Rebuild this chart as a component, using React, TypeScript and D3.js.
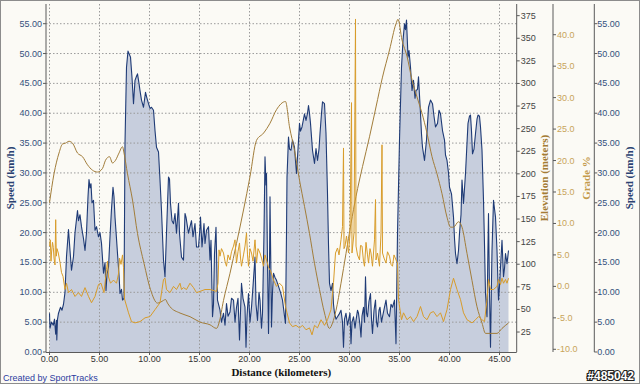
import React from 'react';
import * as d3 from 'd3';

type Pt = [number, number];

// distance (km) -> speed (km/h)
const speedPts: Pt[] = [
  [0.0, 6.5], [0.05, 4.0], [0.2, 5.0], [0.38, 4.5], [0.5, 5.5], [0.62, 3.0], [0.7, 5.3], [0.73, 2.0], [0.8, 5.5], [0.9, 6.5],
  [1.1, 7.5], [1.25, 7.0], [1.4, 8.0], [1.55, 10], [1.7, 16], [1.9, 20.5], [2.05, 17], [2.2, 13.7], [2.4, 16], [2.55, 20],
  [2.8, 23.7], [2.9, 22], [3.05, 23], [3.2, 21], [3.4, 19], [3.55, 17], [3.7, 20], [3.85, 26], [3.95, 28.9], [4.05, 27.5],
  [4.15, 28.2], [4.25, 25], [4.4, 25.4], [4.55, 20.4], [4.7, 21], [4.9, 19.3], [5.05, 20], [5.2, 18.2], [5.4, 13.2], [5.55, 15],
  [5.65, 10.3], [5.75, 13], [5.9, 14.2], [6.05, 19.3], [6.2, 24], [6.35, 27.6], [6.45, 26], [6.55, 22.6], [6.7, 19], [6.8, 16.5],
  [6.95, 13], [7.05, 9.8], [7.2, 10.5], [7.3, 8.7], [7.45, 9], [7.55, 35], [7.7, 47.7], [7.85, 50.4], [7.95, 50], [8.1, 49.4],
  [8.25, 46], [8.4, 41.6], [8.55, 45.5], [8.7, 46.2], [8.8, 46.6], [8.95, 45], [9.05, 43.8], [9.2, 42.2], [9.4, 41], [9.6, 43.5],
  [9.75, 42.5], [9.9, 41.6], [10.05, 40.8], [10.2, 41], [10.4, 40.5], [10.55, 37.1], [10.7, 34.3], [10.9, 33.5], [11.05, 28.8], [11.2, 23.7],
  [11.4, 15.4], [11.55, 12.6], [11.7, 20], [11.9, 29.3], [12.0, 29], [12.1, 24.9], [12.25, 22], [12.4, 21.5], [12.55, 23.2], [12.7, 19.9],
  [12.9, 24.9], [13.0, 19.9], [13.2, 15.9], [13.4, 15.4], [13.55, 23.2], [13.65, 22.6], [13.9, 19.9], [14.05, 21], [14.2, 22], [14.35, 19.3],
  [14.55, 21.5], [14.7, 17.6], [14.9, 17.6], [15.05, 20.9], [15.1, 22.6], [15.25, 17.6], [15.45, 21.5], [15.55, 18.2], [15.7, 20.4], [15.9, 21],
  [16.05, 15.4], [16.15, 18.7], [16.3, 5.9], [16.4, 8], [16.5, 16.5], [16.65, 20.9], [16.8, 8.7], [17.05, 7], [17.2, 5], [17.4, 6.5],
  [17.55, 4.5], [17.7, 8.1], [17.85, 6], [18.05, 6.7], [18.2, 9], [18.4, 8.7], [18.55, 5], [18.7, 7.5], [18.85, 9], [19.0, 2],
  [19.2, 11.5], [19.35, 9], [19.55, 7.5], [19.65, 0.8], [19.75, 6], [19.9, 9.8], [20.05, 5], [20.2, 7.5], [20.35, 11], [20.55, 15.9],
  [20.65, 8], [20.8, 5.3], [20.95, 10], [21.05, 8.7], [21.2, 4], [21.3, 6.5], [21.45, 20], [21.55, 32.7], [21.65, 28], [21.7, 29.9],
  [21.8, 15], [21.9, 3.1], [22.0, 15], [22.05, 26], [22.15, 12], [22.2, 4.2], [22.3, 10], [22.4, 13.2], [22.55, 12.5], [22.7, 12],
  [22.9, 11], [23.1, 10], [23.3, 8.7], [23.5, 6], [23.6, 4.8], [23.7, 20], [23.75, 29.3], [23.9, 36], [24.0, 34], [24.15, 33.8],
  [24.3, 35.5], [24.5, 34.3], [24.6, 32], [24.7, 29.9], [24.85, 34], [25.0, 38.3], [25.1, 37], [25.25, 37.7], [25.4, 39], [25.5, 39.9],
  [25.65, 38.8], [25.8, 40], [25.9, 41.3], [26.0, 40], [26.1, 38.3], [26.3, 33.8], [26.5, 31.6], [26.65, 34.1], [26.8, 32.1], [26.95, 34],
  [27.05, 36.6], [27.2, 40], [27.3, 41.9], [27.5, 41.6], [27.65, 36.6], [27.8, 26.5], [27.9, 18], [28.0, 11.5], [28.15, 10.3], [28.3, 11.5],
  [28.4, 8], [28.5, 6.5], [28.65, 5.5], [28.8, 5.9], [28.95, 6.3], [29.15, 7], [29.3, 5], [29.4, 0.8], [29.5, 5.5], [29.65, 6.5],
  [29.8, 4.5], [29.9, 5.3], [30.05, 6.5], [30.15, 1.4], [30.25, 5], [30.4, 5.9], [30.55, 4], [30.65, 5.3], [30.8, 7], [30.9, 6.5],
  [31.05, 4.5], [31.15, 2.5], [31.25, 6], [31.4, 7.5], [31.5, 5], [31.6, 12.6], [31.7, 6.5], [31.8, 5.9], [31.95, 8.5], [32.1, 9.8],
  [32.2, 5.5], [32.3, 3.1], [32.45, 7], [32.6, 8.7], [32.7, 5], [32.8, 4.2], [32.95, 7], [33.05, 7.5], [33.2, 5], [33.3, 5.9],
  [33.5, 7.5], [33.65, 8.7], [33.8, 6.5], [34.0, 5.9], [34.15, 8], [34.3, 7.5], [34.5, 8.7], [34.65, 1.4], [34.8, 19.8], [35.0, 35.5],
  [35.2, 47.7], [35.35, 52.2], [35.5, 55], [35.6, 54], [35.7, 55.6], [35.85, 49.4], [35.95, 50.5], [36.1, 47.7], [36.25, 43.8], [36.4, 45.5],
  [36.55, 42.5], [36.65, 43.8], [36.8, 44], [36.9, 46.1], [37.0, 43], [37.1, 39.9], [37.2, 36.5], [37.3, 34.3], [37.5, 32.1], [37.7, 35.5],
  [37.9, 41], [38.1, 42.2], [38.3, 41.6], [38.45, 39.5], [38.6, 37.7], [38.8, 38.3], [38.95, 40.5], [39.1, 39.9], [39.3, 37.1], [39.5, 35.5],
  [39.6, 33], [39.75, 32.1], [39.9, 30], [40.0, 27.6], [40.2, 26.5], [40.4, 22.6], [40.5, 19], [40.6, 16.5], [40.75, 14.8], [40.9, 17],
  [41.0, 19.9], [41.15, 23], [41.25, 28.8], [41.4, 24.9], [41.6, 29.9], [41.75, 35], [41.85, 38.3], [42.0, 39.5], [42.1, 39.7], [42.2, 37],
  [42.3, 33.2], [42.45, 34], [42.6, 36.6], [42.75, 39], [42.85, 39.7], [43.0, 39.5], [43.1, 37.7], [43.25, 33.8], [43.4, 25.4], [43.5, 18],
  [43.6, 9.8], [43.75, 5.9], [43.85, 18], [43.9, 23.2], [44.0, 10], [44.1, 0.8], [44.2, 12], [44.25, 17], [44.4, 25.4], [44.5, 24],
  [44.6, 22.6], [44.75, 17], [44.9, 8.7], [45.0, 11], [45.1, 14.2], [45.25, 18.7], [45.4, 12.6], [45.5, 14], [45.6, 16.5], [45.75, 14.8],
  [45.9, 17],
];

// distance (km) -> elevation (m)
const elevationPts: Pt[] = [
  [0.0, 168], [0.45, 200], [0.95, 223], [1.3, 233], [1.6, 234], [1.95, 236], [2.3, 234], [2.8, 223], [3.3, 219], [3.8, 210],
  [4.3, 204], [4.8, 202], [5.3, 206], [5.6, 215], [6.0, 219], [6.3, 212], [6.6, 215], [6.95, 223], [7.3, 230], [7.45, 223],
  [7.8, 200], [8.3, 171], [8.8, 134], [9.45, 101], [10.1, 72], [10.8, 57], [11.1, 58], [11.4, 60], [11.6, 61], [11.8, 57],
  [12.05, 53], [13.05, 46], [14.05, 42], [15.05, 36], [16.05, 33], [16.7, 29], [16.95, 35], [17.4, 60], [18.05, 90], [18.7, 123],
  [19.4, 160], [20.05, 197], [20.7, 237], [21.4, 245], [22.05, 256], [22.7, 271], [23.6, 280], [24.0, 252], [24.5, 226], [25.0, 193],
  [25.5, 164], [26.0, 134], [26.5, 101], [27.0, 72], [27.5, 46], [28.0, 29], [28.3, 35], [28.65, 49], [29.15, 79], [29.65, 112],
  [30.15, 145], [30.65, 175], [31.3, 208], [32.0, 241], [32.65, 274], [33.3, 307], [34.0, 337], [34.65, 366], [34.85, 371], [35.25, 348],
  [35.75, 330], [36.25, 304], [36.75, 285], [37.25, 267], [37.75, 245], [38.25, 219], [38.75, 200], [39.25, 178], [39.75, 152], [40.1, 141],
  [40.4, 141], [40.9, 147], [41.25, 141], [41.75, 112], [42.25, 82], [42.75, 53], [43.25, 35], [43.6, 23.5], [44.25, 23.5], [44.75, 23.5],
  [45.25, 29], [45.9, 35],
];

// distance (km) -> grade (%)
const gradePts: Pt[] = [
  [0.0, 6.4], [0.08, 7.4], [0.15, 4], [0.2, 5.3], [0.3, 7], [0.38, 6.2], [0.45, 4.5], [0.55, 3.4], [0.62, 10.6], [0.68, 4.8],
  [0.75, 6], [0.88, 5.3], [1.05, 3.8], [1.2, 2.2], [1.35, 1.6], [1.55, -0.5], [1.7, 0.5], [1.9, -1], [2.2, -0.5], [2.55, -1.6],
  [2.9, -1], [3.2, -1.6], [3.55, -0.2], [3.9, -1.6], [4.2, -2.6], [4.55, -1.6], [4.9, 0.3], [5.15, 0.5], [5.45, -1], [5.7, 2.7],
  [5.8, 4], [5.9, 1.5], [6.1, 0.5], [6.4, 1], [6.7, 0.5], [6.9, 2], [7.0, 4.5], [7.15, 3.5], [7.3, 5], [7.4, 3],
  [7.5, -2], [7.9, -4.2], [8.2, -5.6], [8.55, -5.8], [9.05, -5.6], [9.55, -5], [10.05, -4.8], [10.55, -3.7], [11.05, -2.6], [11.25, -0.5],
  [11.4, 1.1], [11.55, 1.3], [11.7, -0.5], [12.05, -1], [12.4, 0], [12.7, -0.5], [13.05, 0.5], [13.2, -0.5], [13.4, -0.2], [13.7, -0.5],
  [14.05, 0.5], [14.4, -0.2], [14.7, -1], [15.05, -0.8], [15.55, -0.5], [16.05, -0.5], [16.7, -0.8], [16.85, 0.5], [16.95, 5.8], [17.05, 4.8],
  [17.2, 6], [17.4, 5.3], [17.55, 4], [17.7, 3.2], [17.85, 5], [18.05, 4.2], [18.2, 5.5], [18.4, 6.4], [18.55, 7.4], [18.7, 3.7],
  [18.85, 5.5], [19.0, 6.9], [19.1, 4.5], [19.2, 3.2], [19.4, 5], [19.55, 6.4], [19.7, 8.5], [19.8, 5], [19.9, 3.2], [20.05, 6],
  [20.2, 5.3], [20.35, 4], [20.55, 7.4], [20.7, 3.7], [20.85, 6], [21.05, 5.3], [21.2, 4.5], [21.4, 3.2], [21.55, 5], [21.7, 4.2],
  [21.9, 3], [22.1, 2.5], [22.4, 1], [22.7, 0], [23.0, 0.5], [23.3, 0], [23.6, -3.2], [23.75, -4.2], [24.0, -5.8], [24.3, -6.4],
  [24.65, -6.2], [25.0, -6.6], [25.3, -6.2], [25.65, -6.9], [26.0, -6.6], [26.25, -7.7], [26.5, -6.2], [26.8, -6.6], [27.15, -5.3], [27.5, -6.2],
  [27.8, -5.3], [28.15, -3.7], [28.4, 0.6], [28.6, 5.3], [28.8, 6.1], [28.95, 5], [29.15, 7.4], [29.3, 9.5], [29.4, 22], [29.45, 6],
  [29.55, 6.4], [29.7, 8], [29.9, 5.3], [30.05, 8.5], [30.2, 29.2], [30.25, 5.3], [30.45, 8.5], [30.6, 42.5], [30.65, 6.4], [30.8, 5],
  [31.0, 4.2], [31.1, 6.5], [31.25, 6.4], [31.4, 4], [31.5, 3.2], [31.65, 7], [31.8, 5], [31.9, 3.7], [32.05, 6], [32.15, 5.3],
  [32.3, 3.2], [32.5, 7.4], [32.6, 13.8], [32.65, 4.2], [32.8, 5.3], [33.0, 3.2], [33.15, 8.5], [33.25, 22.5], [33.3, 5.3], [33.45, 4.5],
  [33.65, 3.7], [33.8, 5.5], [34.0, 4.8], [34.15, 3.5], [34.3, 3.2], [34.45, 5], [34.65, 4.2], [34.8, 3.7], [34.9, -2.1], [35.2, -5.3],
  [35.4, -4.2], [35.75, -5.3], [36.1, -4.8], [36.4, -5.6], [36.75, -4.8], [37.1, -3.2], [37.4, -4.8], [37.75, -5.3], [38.1, -4.2], [38.4, -4],
  [38.75, -4.8], [39.1, -4.2], [39.4, -5.6], [39.75, -3.7], [40.1, -0.5], [40.4, 1.3], [40.75, -0.5], [41.1, -2.1], [41.4, -4.2], [41.75, -5.3],
  [42.25, -5.8], [42.6, -5.3], [42.9, -4.8], [43.25, -5.3], [43.5, -5.6], [43.75, -2.1], [43.9, 1.1], [44.1, -0.5], [44.4, -0.5], [44.75, 0],
  [44.9, 1.1], [45.1, 0.3], [45.25, 1.3], [45.4, 0.5], [45.6, 1.1], [45.75, 0.5], [45.9, 1.3],
];

const distanceTicks = [0, 5, 10, 15, 20, 25, 30, 35, 40, 45];
const speedTicks = [0, 5, 10, 15, 20, 25, 30, 35, 40, 45, 50, 55];
const elevationTicks = [25, 50, 75, 100, 125, 150, 175, 200, 225, 250, 275, 300, 325, 350, 375];
const gradeTicks = [-10, -5, 0, 5, 10, 15, 20, 25, 30, 35, 40];

const W = 640;
const H = 384;
const left = 46;
const right = 516.7;
const top = 4;
const bottom = 352;
const gradeAxisX = 553;
const speedAxis2X = 594.3;

const navy = '#1f3b76';
const elevColor = '#a27d3a';
const gradeColor = '#d89c2a';
const tickFont = '"Liberation Sans", Arial, sans-serif';
const titleFont = '"Liberation Serif", "Times New Roman", serif';

export default function App() {
  const x = d3.scaleLinear().domain([-0.35, 46.72]).range([left, right]);
  const ySpeed = d3.scaleLinear().domain([0, 58.3]).range([bottom, top]);
  const yElev = d3.scaleLinear().domain([2.9, 387.9]).range([bottom, top]);
  const yGrade = d3.scaleLinear().domain([-10.43, 44.88]).range([bottom, top]);

  const speedArea = d3.area<Pt>().x(d => x(d[0])).y0(bottom).y1(d => ySpeed(d[1]));
  const speedLine = d3.line<Pt>().x(d => x(d[0])).y(d => ySpeed(d[1]));
  const elevLine = d3.line<Pt>().x(d => x(d[0])).y(d => yElev(d[1])).curve(d3.curveMonotoneX);
  const gradeLine = d3.line<Pt>().x(d => x(d[0])).y(d => yGrade(d[1]));

  const midY = (top + bottom) / 2;

  return (
    <svg width={W} height={H} style={{ position: 'absolute', left: 0, top: 0, display: 'block' }}>
      <rect x={0.5} y={0.5} width={W - 1} height={H - 1} fill="#fbfaf5" stroke="#8c8c8c" />

      <path d={speedArea(speedPts) ?? ''} fill="#c7cedd" />

      {/* grid */}
      <g stroke="#9a9a9a" strokeWidth={1} strokeDasharray="1.5,2">
        {distanceTicks.map(t => (
          <line key={'gx' + t} x1={x(t)} x2={x(t)} y1={top} y2={bottom} />
        ))}
        {speedTicks.filter(t => t > 0).map(t => (
          <line key={'gy' + t} x1={left} x2={right} y1={ySpeed(t)} y2={ySpeed(t)} />
        ))}
      </g>

      <path d={speedLine(speedPts) ?? ''} fill="none" stroke={navy} strokeWidth={1.1} strokeLinejoin="round" />
      <path d={elevLine(elevationPts) ?? ''} fill="none" stroke={elevColor} strokeWidth={1} />
      <path d={gradeLine(gradePts) ?? ''} fill="none" stroke={gradeColor} strokeWidth={1} />

      {/* axis lines */}
      <g stroke="#5a5a5a" strokeWidth={1}>
        <line x1={left} x2={left} y1={top} y2={bottom} />
        <line x1={left} x2={right} y1={bottom + 0.5} y2={bottom + 0.5} />
        <line x1={right} x2={right} y1={top} y2={bottom} />
        <line x1={gradeAxisX} x2={gradeAxisX} y1={top} y2={bottom} />
        <line x1={speedAxis2X} x2={speedAxis2X} y1={top} y2={bottom} />
      </g>

      {/* left speed axis */}
      <g fontFamily={tickFont} fontSize={9} fill="#34507c">
        {speedTicks.map(t => (
          <g key={'ls' + t}>
            <line x1={left - 3} x2={left} y1={ySpeed(t)} y2={ySpeed(t)} stroke="#5a5a5a" />
            <text x={left - 4} y={ySpeed(t)} textAnchor="end" dominantBaseline="central">{t.toFixed(2)}</text>
          </g>
        ))}
      </g>

      {/* distance axis */}
      <g fontFamily={tickFont} fontSize={9} fill="#333">
        {distanceTicks.map(t => (
          <g key={'dx' + t}>
            <line x1={x(t)} x2={x(t)} y1={bottom} y2={bottom + 3} stroke="#5a5a5a" />
            <text x={x(t)} y={bottom + 7} textAnchor="middle" dominantBaseline="central">{t.toFixed(2)}</text>
          </g>
        ))}
      </g>

      {/* elevation axis */}
      <g fontFamily={tickFont} fontSize={9} fill="#444">
        {elevationTicks.map(t => (
          <g key={'el' + t}>
            <line x1={right} x2={right + 3} y1={yElev(t)} y2={yElev(t)} stroke="#5a5a5a" />
            <text x={right + 4} y={yElev(t)} dominantBaseline="central">{t}</text>
          </g>
        ))}
      </g>

      {/* grade axis */}
      <g fontFamily={tickFont} fontSize={9} fill="#c8a45a">
        {gradeTicks.map(t => (
          <g key={'gr' + t}>
            <line x1={gradeAxisX} x2={gradeAxisX + 3} y1={yGrade(t)} y2={yGrade(t)} stroke="#5a5a5a" />
            <text x={gradeAxisX + 4} y={yGrade(t)} dominantBaseline="central">{t.toFixed(1)}</text>
          </g>
        ))}
      </g>

      {/* right speed axis */}
      <g fontFamily={tickFont} fontSize={9} fill="#34507c">
        {speedTicks.map(t => (
          <g key={'rs' + t}>
            <line x1={speedAxis2X} x2={speedAxis2X + 3} y1={ySpeed(t)} y2={ySpeed(t)} stroke="#5a5a5a" />
            <text x={speedAxis2X + 3} y={ySpeed(t)} dominantBaseline="central">{t.toFixed(2)}</text>
          </g>
        ))}
      </g>

      {/* axis titles */}
      <g fontFamily={titleFont} fontWeight="bold" fontSize={11} textAnchor="middle" dominantBaseline="central">
        <text transform={`translate(10,${midY}) rotate(-90)`} fill="#2a4272">Speed (km/h)</text>
        <text transform={`translate(544,${midY}) rotate(-90)`} fill="#a47c34">Elevation (meters)</text>
        <text transform={`translate(586,${midY}) rotate(-90)`} fill="#c49a4c">Grade %</text>
        <text transform={`translate(628.5,${midY}) rotate(-90)`} fill="#2a4272">Speed (km/h)</text>
        <text x={(left + right) / 2} y={372} fill="#111">Distance (kilometers)</text>
      </g>

      <text x={3} y={378} fontFamily={tickFont} fontSize={9} fill="#2c3aa0" dominantBaseline="central">Created by SportTracks</text>
      <text x={634} y={376} textAnchor="end" dominantBaseline="central" fontFamily={tickFont} fontWeight="bold" fontSize={12}
        fill="#fff" stroke="#222" strokeWidth={2.2} style={{ paintOrder: 'stroke' }}>#485042</text>
    </svg>
  );
}
